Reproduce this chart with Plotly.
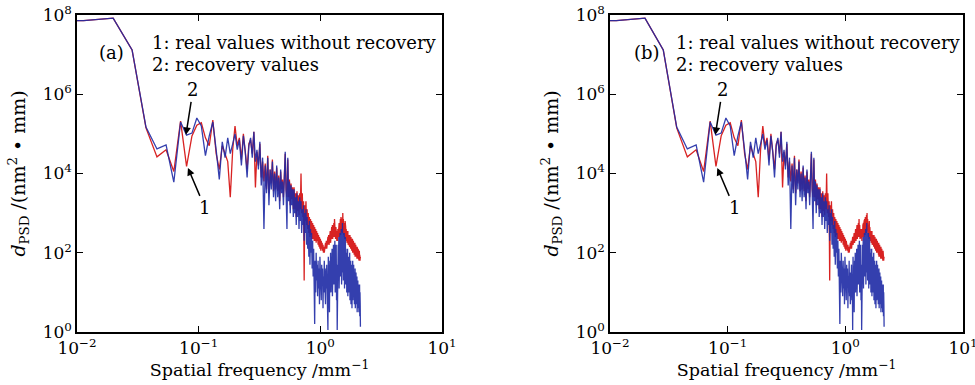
import plotly.graph_objects as go

# Uniform spatial-frequency grid (mm^-1), first point lies just left of the axis
f_start = 0.00277
f_step = 0.00853
n_points = 251
freq = [round(f_start + f_step * i, 5) for i in range(n_points)]

# log10 of d_PSD, curve 1: real values without recovery (red)
real_log = [
    7.84, 7.86, 7.92, 7.12, 5.15, 4.42, 4.60, 4.05, 5.32, 4.18, 4.95,
    5.22, 5.28, 4.90, 4.70, 5.35, 4.50, 4.10, 4.70, 4.50, 4.30,
    3.40, 4.60, 5.20, 4.70, 4.90, 4.35, 5.00, 4.50, 4.10, 4.75,
    4.85, 4.50, 5.05, 3.65, 4.55, 4.20, 4.75, 3.90, 4.30, 3.80,
    4.25, 3.60, 4.45, 3.50, 4.10, 3.75, 4.35, 3.55, 4.05, 3.60,
    4.15, 3.55, 3.95, 3.30, 4.05, 3.60, 3.85, 3.40, 4.25, 4.50,
    3.60, 3.40, 4.35, 3.40, 3.85, 3.20, 3.75, 3.35, 3.65, 3.10,
    3.65, 3.10, 3.50, 2.90, 3.55, 3.05, 3.45, 2.95, 3.50, 3.10,
    4.00, 3.00, 3.50, 2.90, 3.30, 1.30, 3.20, 2.80, 3.30, 2.70,
    3.10, 2.60, 3.00, 2.50, 2.90, 2.40, 2.85, 2.45, 2.80, 2.35,
    2.75, 2.35, 2.70, 2.30, 2.65, 2.30, 2.60, 2.25, 2.55, 2.30,
    2.50, 2.20, 2.45, 2.15, 2.40, 2.10, 2.35, 2.05, 2.30, 2.10,
    2.25, 2.05, 2.20, 2.00, 2.15, 2.00, 2.20, 2.05, 2.25, 2.10,
    2.30, 2.10, 2.35, 2.15, 2.40, 2.20, 2.45, 2.20, 2.50, 2.25,
    2.55, 2.25, 2.60, 2.30, 2.65, 2.35, 2.70, 2.35, 2.65, 2.40,
    2.75, 2.40, 2.85, 2.45, 2.70, 2.35, 2.65, 2.40, 2.60, 2.30,
    2.55, 2.30, 2.60, 2.40, 2.70, 2.45, 2.75, 2.40, 2.80, 2.50,
    2.85, 2.45, 2.90, 2.50, 2.80, 2.55, 2.95, 2.50, 3.00, 2.60,
    2.85, 2.45, 2.75, 2.40, 2.70, 2.35, 2.80, 2.40, 2.65, 2.35,
    2.60, 2.30, 2.55, 2.25, 2.50, 2.30, 2.55, 2.20, 2.45, 2.25,
    2.45, 2.20, 2.40, 2.15, 2.45, 2.20, 2.35, 2.10, 2.40, 2.15,
    2.35, 2.05, 2.30, 2.10, 2.35, 2.00, 2.25, 2.05, 2.30, 2.00,
    2.25, 1.95, 2.20, 1.95, 2.25, 1.90, 2.15, 1.95, 2.20, 1.90,
    2.15, 1.90, 2.10, 1.85, 2.15, 1.90, 2.05, 1.85, 2.10, 1.85,
    2.05, 1.85, 2.00, 1.80, 2.05, 1.85, 1.95, 1.80, 1.90, 1.85,
]

# log10 of d_PSD, curve 2: recovery values (blue)
recovery_log = [
    7.84, 7.86, 7.92, 7.12, 5.17, 4.62, 4.72, 3.78, 5.30, 4.97, 5.02,
    5.40, 5.20, 4.45, 4.95, 5.30, 4.60, 3.85, 4.80, 4.40, 4.90,
    4.50, 4.75, 5.00, 4.60, 4.85, 4.20, 4.95, 4.55, 3.90, 4.70,
    4.90, 4.40, 5.05, 4.30, 4.60, 4.10, 4.80, 3.70, 4.40, 2.60,
    4.20, 3.50, 4.40, 3.20, 4.10, 3.60, 4.30, 3.40, 4.00, 3.30,
    4.20, 3.40, 3.90, 3.10, 4.10, 3.50, 3.80, 3.20, 4.30, 4.55,
    3.50, 2.60, 4.40, 3.30, 3.80, 3.00, 3.70, 3.20, 3.60, 2.90,
    3.60, 3.00, 3.40, 2.70, 3.50, 2.90, 3.30, 2.60, 3.40, 2.80,
    3.30, 2.50, 3.10, 2.70, 3.20, 2.30, 3.00, 2.50, 3.10, 2.20,
    2.90, 2.10, 2.70, 1.90, 2.80, 1.70, 2.60, 2.00, 2.50, 1.60,
    2.30, 1.40, 2.10, 1.20, 0.20, 1.80, 1.00, 2.00, 1.30, 1.70,
    0.90, 1.80, 1.10, 1.60, 0.70, 1.90, 1.20, 1.50, 0.80, 1.70,
    1.20, 1.60, 0.60, 1.40, 1.00, 1.80, 0.90, 1.50, 0.70, 1.60,
    1.10, 1.70, 0.80, 1.40, 0.05, 1.90, 1.20, 1.60, 0.50, 1.80,
    1.30, 2.00, 1.00, 1.70, 1.40, 2.10, 0.90, 1.80, 1.50, 2.20,
    1.20, 2.00, 1.60, 2.30, 1.00, 1.90, 1.40, 2.20, 0.80, 1.70,
    0.05, 1.90, 1.30, 2.20, 1.50, 2.40, 1.10, 2.10, 1.60, 2.50,
    1.40, 2.30, 1.80, 2.60, 1.20, 2.40, 1.70, 2.75, 1.50, 2.50,
    1.30, 2.30, 1.60, 2.50, 1.10, 2.20, 1.50, 2.40, 1.20, 2.10,
    1.40, 2.00, 1.00, 1.90, 1.30, 2.10, 0.90, 1.80, 1.20, 1.90,
    1.00, 1.70, 1.30, 2.00, 0.80, 1.60, 1.10, 1.80, 0.70, 1.50,
    1.20, 1.70, 0.60, 1.60, 1.00, 1.80, 0.80, 1.50, 1.10, 1.70,
    0.90, 1.50, 0.70, 1.40, 1.00, 1.60, 0.60, 1.30, 0.90, 1.50,
    0.70, 1.30, 0.90, 1.40, 0.50, 1.20, 0.80, 1.30, 0.60, 1.10,
    0.90, 1.20, 0.50, 1.10, 0.80, 1.20, 0.40, 1.00, 0.70, 0.13,
]

panels = ["(a)", "(b)"]
legend_lines = ["1: real values without recovery", "2: recovery values"]
x_tick_vals = [0.01, 0.1, 1, 10]
x_tick_text = ["10<sup>−2</sup>", "10<sup>−1</sup>", "10<sup>0</sup>", "10<sup>1</sup>"]
y_tick_vals = [1, 1e2, 1e4, 1e6, 1e8]
y_tick_text = ["10<sup>0</sup>", "10<sup>2</sup>", "10<sup>4</sup>", "10<sup>6</sup>", "10<sup>8</sup>"]
x_minor_vals = [m * 10.0 ** e for e in (-2, -1, 0) for m in range(2, 10)]

real_vals = [10 ** v for v in real_log]
recovery_vals = [10 ** v for v in recovery_log]

W, H = 975, 385
FONT = "DejaVu Serif"
RED = "#d82222"
BLUE = "rgba(30,42,165,0.9)"

fig = go.Figure()

boxes = [(77, 442), (610, 963)]
top_px, bot_px = 15, 332
ydom = [1 - bot_px / H, 1 - top_px / H]

for k, (x0, x1) in enumerate(boxes):
    n = 1 + 2 * k
    xa, ya = f"x{'' if n == 1 else n}", f"y{'' if n == 1 else n}"
    xname = "xaxis" if n == 1 else f"xaxis{n}"
    yname = "yaxis" if n == 1 else f"yaxis{n}"
    xmname = f"xaxis{n + 1}"
    fig.add_trace(go.Scatter(x=freq, y=real_vals, mode="lines", xaxis=xa, yaxis=ya,
                             line=dict(color=RED, width=1.3), showlegend=False))
    fig.add_trace(go.Scatter(x=freq, y=recovery_vals, mode="lines", xaxis=xa, yaxis=ya,
                             line=dict(color=BLUE, width=1.3), showlegend=False))
    axis_common = dict(showline=True, linecolor="black", linewidth=1.5, mirror="ticks",
                       ticks="inside", tickcolor="black", showgrid=False, zeroline=False,
                       automargin=False, ticklabeloverflow="allow",
                       tickfont=dict(family=FONT, size=17, color="black"))
    fig.update_layout(**{
        xname: dict(type="log", range=[-2, 1], domain=[x0 / W, x1 / W], anchor=ya,
                    tickmode="array", tickvals=x_tick_vals, ticktext=x_tick_text, ticklen=6,
                    title=dict(text="Spatial frequency /mm<sup>−1</sup>", standoff=1,
                               font=dict(family=FONT, size=17.5, color="black")),
                    **axis_common),
        # overlay axis that carries the minor ticks (2..9 of each decade)
        xmname: dict(type="log", range=[-2, 1], domain=[x0 / W, x1 / W], anchor=ya,
                     overlaying=xa, side="bottom", showline=True, linecolor="black",
                     linewidth=1.5, mirror="ticks", ticks="inside", ticklen=3,
                     tickcolor="black", tickmode="array", tickvals=x_minor_vals,
                     showticklabels=False, showgrid=False, zeroline=False, automargin=False),
        yname: dict(type="log", range=[0, 8], domain=ydom, anchor=xa,
                    tickmode="array", tickvals=y_tick_vals, ticktext=y_tick_text, ticklen=6,
                    title=dict(text="<i>d</i><sub>PSD</sub> /(nm<sup>2</sup> • mm)", standoff=12,
                               font=dict(family=FONT, size=19, color="black")),
                    **axis_common),
    })
    xd, yd = f"{xa} domain", f"{ya} domain"
    wpx = x1 - x0
    fig.add_annotation(xref=xd, yref=yd, x=(20 if k == 0 else 22) / wpx, y=0.921,
                       text=panels[k], showarrow=False,
                       font=dict(family=FONT, size=18, color="black"))
    lx = (150 - 77) / wpx if k == 0 else (674 - 610) / wpx
    for txt, yy in zip(legend_lines, [0.952, 0.883]):
        fig.add_annotation(xref=xd, yref=yd, x=lx, y=yy, xanchor="left", text=txt,
                           showarrow=False, font=dict(family=FONT, size=18, color="black"))
    fig.add_annotation(xref=xa, yref=ya, x=-1.1044, y=4.975, text="2", showarrow=True,
                       ax=7, ay=-45, arrowhead=2, arrowsize=1, arrowwidth=1.5,
                       arrowcolor="black", font=dict(family=FONT, size=18, color="black"))
    fig.add_annotation(xref=xa, yref=ya, x=-1.088, y=4.141, text="1", showarrow=True,
                       ax=17, ay=40, arrowhead=2, arrowsize=1, arrowwidth=1.5,
                       arrowcolor="black", font=dict(family=FONT, size=18, color="black"))

fig.update_layout(width=W, height=H, margin=dict(l=0, r=0, t=0, b=0),
                  paper_bgcolor="white", plot_bgcolor="white", showlegend=False)

# remove the default 8px page margin so the figure fills the 975x385 window exactly
fig.write_html("out.html", config={"displayModeBar": False},
               post_script="document.body.style.margin='0';")
